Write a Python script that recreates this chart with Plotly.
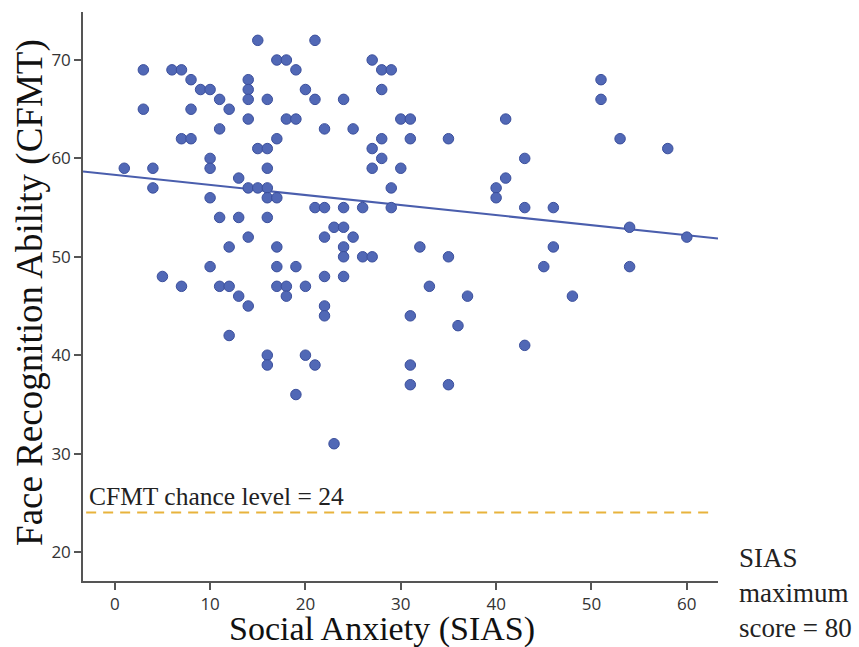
import numpy as np
import plotly.graph_objects as go

# (SIAS, CFMT) pairs
sias = [15, 21,
        17, 18, 27,
        3, 6, 7, 19, 28, 29,
        8, 14, 51,
        9, 10, 14, 20, 28,
        11, 14, 16, 21, 24, 51,
        12, 3, 8,
        14, 18, 19, 30, 31, 41,
        11, 22, 25,
        7, 8, 17, 28, 31, 35, 53,
        15, 16, 27, 58,
        10, 28, 43,
        10, 1, 4, 16, 27, 30,
        13, 41,
        4, 14, 15, 16, 29, 40,
        10, 16, 17, 40,
        21, 22, 24, 26, 29, 43, 46,
        11, 13, 16,
        23, 24, 54,
        14, 22, 25, 60,
        12, 17, 24, 32, 46,
        24, 26, 27, 35,
        10, 17, 19, 45, 54,
        5, 22, 24,
        7, 11, 12, 17, 18, 20, 33,
        13, 18, 37, 48,
        14, 22,
        22, 31,
        36,
        12,
        43,
        16, 20,
        16, 21, 31,
        31, 35,
        19,
        23]
cfmt = [72, 72,
        70, 70, 70,
        69, 69, 69, 69, 69, 69,
        68, 68, 68,
        67, 67, 67, 67, 67,
        66, 66, 66, 66, 66, 66,
        65, 65, 65,
        64, 64, 64, 64, 64, 64,
        63, 63, 63,
        62, 62, 62, 62, 62, 62, 62,
        61, 61, 61, 61,
        60, 60, 60,
        59, 59, 59, 59, 59, 59,
        58, 58,
        57, 57, 57, 57, 57, 57,
        56, 56, 56, 56,
        55, 55, 55, 55, 55, 55, 55,
        54, 54, 54,
        53, 53, 53,
        52, 52, 52, 52,
        51, 51, 51, 51, 51,
        50, 50, 50, 50,
        49, 49, 49, 49, 49,
        48, 48, 48,
        47, 47, 47, 47, 47, 47, 47,
        46, 46, 46, 46,
        45, 45,
        44, 44,
        43,
        42,
        41,
        40, 40,
        39, 39, 39,
        37, 37,
        36,
        31]

chance_level = 24
x_ticks = [0, 10, 20, 30, 40, 50, 60]
y_ticks = [20, 30, 40, 50, 60, 70]
x_range = [-3.33, 63.27]
y_range = [17.05, 74.88]

slope, intercept = np.polyfit(sias, cfmt, 1)
fit_x = np.array(x_range)
fit_y = intercept + slope * fit_x

fig = go.Figure()
fig.add_trace(go.Scatter(
    x=fit_x, y=fit_y, mode="lines",
    line=dict(color="#4A5EAD", width=2), hoverinfo="skip", showlegend=False))
fig.add_trace(go.Scatter(
    x=[-3.0, 62.8], y=[chance_level, chance_level], mode="lines",
    line=dict(color="#E8B33C", width=2, dash="10px,7px"), showlegend=False))
fig.add_trace(go.Scatter(
    x=sias, y=cfmt, mode="markers",
    marker=dict(size=10.5, color="#5168B6", line=dict(color="#3B4F9C", width=1)),
    showlegend=False))

serif = "Liberation Serif, Times New Roman, serif"
fig.add_annotation(x=0.006, y=chance_level, xref="paper", yref="y",
                   text="CFMT chance level = 24", showarrow=False,
                   xanchor="left", yanchor="bottom", yshift=0,
                   font=dict(family=serif, size=25.5, color="#222"))
fig.add_annotation(x=1.03, y=-0.1125, xref="paper", yref="paper",
                   text="SIAS<br>maximum<br>score = 80", showarrow=False,
                   xanchor="left", yanchor="bottom", align="left",
                   font=dict(family=serif, size=27, color="#222"))
fig.add_annotation(x=0.471, y=-0.084, xref="paper", yref="paper",
                   text="Social Anxiety (SIAS)", showarrow=False,
                   xanchor="center", yanchor="middle", borderpad=0,
                   font=dict(family=serif, size=34, color="#111"))
fig.add_annotation(x=-0.0835, y=0.508, xref="paper", yref="paper",
                   text="Face Recognition Ability (CFMT)", showarrow=False,
                   textangle=-90, xanchor="center", yanchor="middle",
                   font=dict(family=serif, size=37, color="#111"))

fig.update_layout(
    width=859, height=647,
    margin=dict(l=83, r=141, t=12, b=66, autoexpand=False),
    paper_bgcolor="white", plot_bgcolor="white",
    xaxis=dict(range=x_range, tickvals=x_ticks, showgrid=False, zeroline=False,
               automargin=False,
               showline=True, linecolor="#555", linewidth=1.5,
               ticks="outside", ticklen=7, tickcolor="#555", tickwidth=1.5,
               tickfont=dict(family="Open Sans", size=17, color="#333")),
    yaxis=dict(range=y_range, tickvals=y_ticks, showgrid=False, zeroline=False,
               automargin=False,
               showline=True, linecolor="#555", linewidth=1.5,
               ticks="outside", ticklen=7, tickcolor="#555", tickwidth=1.5,
               tickfont=dict(family="Open Sans", size=17, color="#333")),
)

# remove the page's default body margin so the 859x647 figure fills the window
fig.write_html("out.html",
               config={"displayModeBar": False},
               post_script="document.body.style.margin='0';"
                           "document.body.style.overflow='hidden';")
